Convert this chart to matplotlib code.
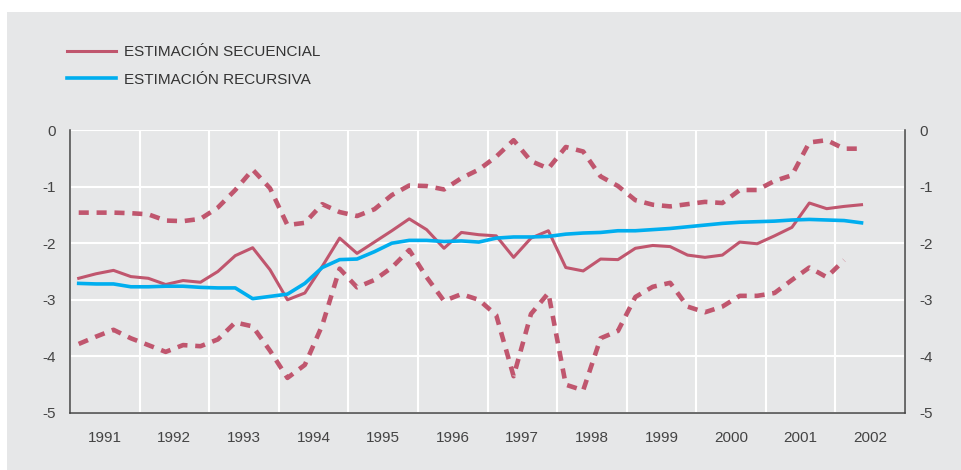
import numpy as np
import pandas as pd
import matplotlib
matplotlib.use("Agg")
import matplotlib.pyplot as plt
from matplotlib.patches import Rectangle

plt.rcParams['font.family'] = ['Liberation Sans', 'DejaVu Sans']

# trimestres 1991T1 - 2002T2
periodos = pd.period_range('1991Q1', '2002Q2', freq='Q')
x = periodos.year + (periodos.quarter - 0.5) / 4

secuencial = [-2.62, -2.54, -2.48, -2.59, -2.62, -2.73, -2.66, -2.69,
              -2.50, -2.22, -2.08, -2.47, -3.00, -2.88, -2.41, -1.91,
              -2.18, -1.98, -1.78, -1.57, -1.76, -2.09, -1.81, -1.85,
              -1.87, -2.25, -1.91, -1.78, -2.43, -2.49, -2.28, -2.29,
              -2.09, -2.04, -2.06, -2.21, -2.25, -2.21, -1.98, -2.01,
              -1.87, -1.72, -1.29, -1.39, -1.35, -1.32]

banda_sup = [-1.46, -1.46, -1.46, -1.47, -1.49, -1.60, -1.61, -1.57,
             -1.37, -1.06, -0.70, -1.03, -1.68, -1.64, -1.31, -1.45,
             -1.52, -1.40, -1.15, -0.98, -0.99, -1.05, -0.85, -0.70,
             -0.47, -0.18, -0.55, -0.68, -0.30, -0.38, -0.82, -0.99,
             -1.24, -1.32, -1.35, -1.31, -1.27, -1.29, -1.06, -1.06,
             -0.90, -0.80, -0.22, -0.18, -0.33, -0.33]

banda_inf = [-3.78, -3.65, -3.53, -3.68, -3.80, -3.92, -3.80, -3.82,
             -3.70, -3.40, -3.47, -3.90, -4.38, -4.15, -3.45, -2.45,
             -2.78, -2.65, -2.43, -2.12, -2.60, -3.02, -2.90, -3.00,
             -3.27, -4.35, -3.25, -2.88, -4.50, -4.60, -3.68, -3.55,
             -2.95, -2.77, -2.70, -3.12, -3.22, -3.12, -2.93, -2.93,
             -2.88, -2.65, -2.43, -2.60, -2.30, np.nan]

recursiva = [-2.71, -2.72, -2.72, -2.77, -2.77, -2.76, -2.76, -2.78,
             -2.79, -2.79, -2.98, -2.94, -2.90, -2.71, -2.43, -2.29,
             -2.28, -2.15, -2.00, -1.95, -1.95, -1.97, -1.96, -1.98,
             -1.91, -1.89, -1.89, -1.88, -1.84, -1.82, -1.81, -1.78,
             -1.78, -1.76, -1.74, -1.71, -1.68, -1.65, -1.63, -1.62,
             -1.61, -1.59, -1.58, -1.59, -1.60, -1.64]

anios = list(range(1991, 2003))

rojo = '#c0566e'
azul = '#00aeef'
fondo = '#e6e7e8'
gris = '#444444'

fig = plt.figure(figsize=(9.62, 4.70), dpi=100)
fig.patch.set_facecolor('white')
fig.patches.append(Rectangle((7 / 962, 0), 1, 1 - 12 / 470, transform=fig.transFigure,
                             facecolor=fondo, edgecolor='none', zorder=-10))

ax = fig.add_axes([70 / 962, 1 - 413 / 470, 835 / 962, 283 / 470])
ax.set_facecolor(fondo)

ax.plot(x, banda_sup, color=rojo, lw=3.3, dashes=(2.2, 1.7))
ax.plot(x, banda_inf, color=rojo, lw=3.3, dashes=(2.2, 1.7))
l1, = ax.plot(x, secuencial, color=rojo, lw=2.2, label='ESTIMACIÓN SECUENCIAL')
l2, = ax.plot(x, recursiva, color=azul, lw=2.6, label='ESTIMACIÓN RECURSIVA')

ax.set_xlim(1991, 2003)
ax.set_ylim(-5, 0)
ax.set_yticks([0, -1, -2, -3, -4, -5])
ax.set_yticklabels(['0', '-1', '-2', '-3', '-4', '-5'])
ax.set_xticks(range(1991, 2004))
ax.set_xticklabels([])
ax.set_xticks([a + 0.5 for a in anios], minor=True)
ax.set_xticklabels([str(a) for a in anios], minor=True)

ax.grid(True, which='major', color='white', lw=1.5)
ax.set_axisbelow(True)
ax.tick_params(axis='x', which='both', length=0, pad=13, labelsize=11, labelcolor=gris)
ax.tick_params(axis='y', length=0, pad=10, labelsize=11, labelcolor=gris,
               labelleft=True, labelright=True)

ax.spines['top'].set_visible(False)
for s in ['left', 'right', 'bottom']:
    ax.spines[s].set_color(gris)
    ax.spines[s].set_linewidth(1.1)

fig.legend(handles=[l1, l2], loc='upper left', bbox_to_anchor=(67 / 962, 1 - 45 / 470),
           frameon=False, fontsize=11, handlelength=3.2, handletextpad=0.55,
           labelspacing=0.9, borderpad=0, borderaxespad=0, labelcolor='#333333')

fig.savefig('out.png', dpi=100, facecolor=fig.get_facecolor())
